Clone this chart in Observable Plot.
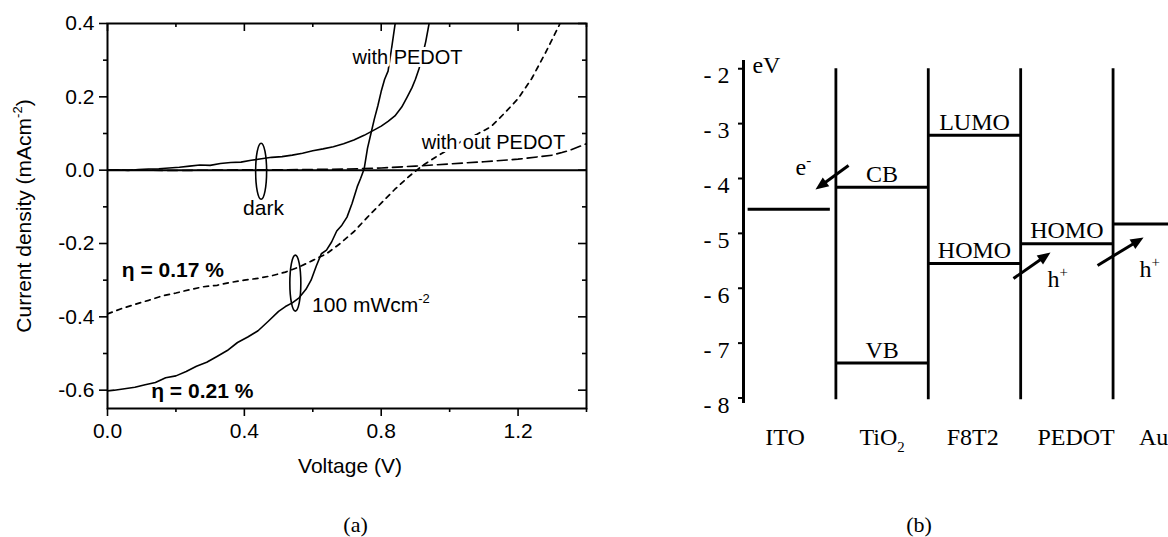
<!DOCTYPE html>
<html><head><meta charset="utf-8">
<script src="https://cdn.jsdelivr.net/npm/d3@7"></script>
<script src="https://cdn.jsdelivr.net/npm/@observablehq/plot@0.6"></script>
<style>
html,body{margin:0;padding:0;background:#fff;overflow:hidden;}
#wrap{position:relative;width:1168px;height:537px;background:#fff;}
#a{position:absolute;left:0;top:0;}
#b{position:absolute;left:620px;top:0;}
</style></head><body><div id="wrap"><div id="a"></div><div id="b"></div></div>
<script>
// ---------------- Panel (a) data: J–V curves ----------------
const V_darkPedot = [0, 0.03, 0.06, 0.09, 0.12, 0.15, 0.18, 0.21, 0.24, 0.27, 0.30, 0.33, 0.36, 0.39, 0.42, 0.45, 0.48, 0.51, 0.54, 0.57, 0.60, 0.63, 0.66, 0.69, 0.72, 0.75, 0.78, 0.80, 0.82, 0.84, 0.86, 0.875, 0.89, 0.90, 0.91, 0.92, 0.93, 0.94, 0.95];
const J_darkPedot = [0.000, 0.001, -0.001, 0.002, 0.003, 0.004, 0.006, 0.008, 0.011, 0.014, 0.013, 0.018, 0.021, 0.022, 0.027, 0.031, 0.035, 0.037, 0.041, 0.046, 0.053, 0.058, 0.064, 0.072, 0.082, 0.095, 0.110, 0.120, 0.133, 0.148, 0.172, 0.198, 0.225, 0.248, 0.275, 0.310, 0.350, 0.400, 0.450];

const V_lightPedot = [0, 0.02, 0.05, 0.08, 0.11, 0.14, 0.17, 0.20, 0.23, 0.26, 0.29, 0.32, 0.35, 0.38, 0.41, 0.44, 0.47, 0.50, 0.52, 0.54, 0.56, 0.58, 0.595, 0.61, 0.625, 0.64, 0.655, 0.67, 0.685, 0.70, 0.715, 0.73, 0.74, 0.75, 0.76, 0.77, 0.78, 0.79, 0.80, 0.81, 0.82, 0.83, 0.84, 0.85];
const J_lightPedot = [-0.602, -0.600, -0.596, -0.592, -0.585, -0.579, -0.566, -0.561, -0.549, -0.535, -0.524, -0.508, -0.492, -0.470, -0.455, -0.438, -0.412, -0.385, -0.372, -0.362, -0.348, -0.325, -0.300, -0.262, -0.228, -0.218, -0.196, -0.166, -0.150, -0.128, -0.090, -0.045, -0.022, 0.003, 0.060, 0.100, 0.140, 0.175, 0.215, 0.248, 0.270, 0.330, 0.395, 0.450];

const V_darkNoPedot = [0, 0.1, 0.2, 0.3, 0.4, 0.5, 0.6, 0.7, 0.8, 0.9, 1.0, 1.1, 1.2, 1.3, 1.35, 1.4];
const J_darkNoPedot = [0, 0, -0.001, 0, 0.001, 0.001, 0.002, 0.003, 0.006, 0.011, 0.017, 0.023, 0.030, 0.041, 0.054, 0.072];

const V_lightNoPedot = [0, 0.04, 0.08, 0.12, 0.16, 0.20, 0.24, 0.28, 0.32, 0.36, 0.40, 0.44, 0.48, 0.52, 0.56, 0.60, 0.64, 0.68, 0.72, 0.76, 0.80, 0.84, 0.88, 0.92, 0.96, 1.00, 1.04, 1.08, 1.12, 1.16, 1.20, 1.24, 1.28, 1.32, 1.34];
const J_lightNoPedot = [-0.392, -0.378, -0.366, -0.355, -0.343, -0.335, -0.326, -0.318, -0.314, -0.306, -0.300, -0.295, -0.288, -0.278, -0.264, -0.246, -0.228, -0.200, -0.168, -0.128, -0.090, -0.052, -0.018, 0.012, 0.036, 0.058, 0.082, 0.098, 0.118, 0.155, 0.195, 0.250, 0.320, 0.395, 0.440];

const xTicksMajor = [0, 0.4, 0.8, 1.2];
const xTicksMinor = [0.2, 0.6, 1.0, 1.4];
const yTicksMajor = [-0.6, -0.4, -0.2, 0, 0.2, 0.4];
const yTicksMinor = [-0.5, -0.3, -0.1, 0.1, 0.3];

const xLabelA = "Voltage (V)";
const yLabelA = "Current density (mAcm^{-2})";
const annText = ["with PEDOT", "with out PEDOT", "dark", "100 mWcm^{-2}", "η = 0.17 %", "η = 0.21 %"];
const annV = [0.877, 1.128, 0.456, 0.598, 0.191, 0.277];
const annJ = [0.306, 0.074, -0.103, -0.369, -0.272, -0.602];
const ringV = [0.449, 0.549];
const ringJ = [-0.003, -0.308];

// ---------------- Panel (b) data: energy levels ----------------
const layers = ["ITO", "TiO2", "F8T2", "PEDOT", "Au"];
const layerText = ["ITO", "TiO_{2}", "F8T2", "PEDOT", "Au"];
const layerTextX = [0.45, 1.5, 2.48, 3.6, 4.28];
const levelLayer = ["ITO", "TiO2", "TiO2", "F8T2", "F8T2", "PEDOT", "Au"];
const levelEnergy = [-4.56, -4.16, -7.36, -3.21, -5.55, -5.19, -4.83];
const levelText = ["", "CB", "VB", "LUMO", "HOMO", "HOMO", ""];
const eTicks = [-8, -7, -6, -5, -4, -3, -2];
const carrierText = ["e^{-}", "h^{+}", "h^{+}"];
const carrierX = [0.563, 3.29, 4.286];
const carrierE = [-3.79, -5.84, -5.66];
const arrowX1 = [1.137, 2.922, 3.832], arrowE1 = [-3.763, -5.822, -5.585];
const arrowX2 = [0.779, 3.323, 4.33], arrowE2 = [-4.20, -5.349, -5.075];

// ---------------- helpers ----------------
const sans = "'Liberation Sans', Arial, Helvetica, sans-serif";
const serif = "'Liberation Serif', 'Times New Roman', Times, serif";
const pts = (V, J) => V.map((v, i) => ({V: v, J: J[i]}));
const f1 = d => d.toFixed(1);

const ellipseSymbol = {
  draw(ctx) {
    const rx = 5.5, ry = 28, k = 0.5523, kx = k * rx, ky = k * ry;
    ctx.moveTo(rx, 0);
    ctx.bezierCurveTo(rx, ky, kx, ry, 0, ry);
    ctx.bezierCurveTo(-kx, ry, -rx, ky, -rx, 0);
    ctx.bezierCurveTo(-rx, -ky, -kx, -ry, 0, -ry);
    ctx.bezierCurveTo(kx, -ry, rx, -ky, rx, 0);
    ctx.closePath();
  }
};
const headSymbol = {
  draw(ctx) {
    ctx.moveTo(0, 0); ctx.lineTo(-5.5, 13); ctx.lineTo(5.5, 13); ctx.closePath();
  }
};

// ---------------- Panel (a) ----------------
const WA = 620, H = 537, mLA = 107, mRA = 34, mTA = 23, mBA = 129;
const fwA = WA - mLA - mRA, fhA = H - mTA - mBA;

const chartA = Plot.plot({
  width: WA, height: H,
  marginLeft: mLA, marginRight: mRA, marginTop: mTA, marginBottom: mBA,
  style: {fontFamily: sans, fontSize: "21px", background: "white", color: "black"},
  x: {domain: [0, 1.4]},
  y: {domain: [-0.65, 0.4]},
  marks: [
    Plot.ruleY([0], {strokeWidth: 2}),
    Plot.line(pts(V_darkNoPedot, J_darkNoPedot), {x: "V", y: "J", strokeWidth: 1.6, strokeDasharray: "10,5", clip: true}),
    Plot.line(pts(V_lightNoPedot, J_lightNoPedot), {x: "V", y: "J", strokeWidth: 1.7, strokeDasharray: "5,5", clip: true}),
    Plot.line(pts(V_darkPedot, J_darkPedot), {x: "V", y: "J", strokeWidth: 1.6, clip: true}),
    Plot.line(pts(V_lightPedot, J_lightPedot), {x: "V", y: "J", strokeWidth: 1.6, clip: true}),
    Plot.frame({strokeWidth: 2}),
    Plot.axisX({ticks: xTicksMajor, tickFormat: f1, tickSize: 8, tickPadding: 7, strokeWidth: 1.6, fontSize: 21, label: null}),
    Plot.axisX({ticks: xTicksMinor, tickFormat: () => "", tickSize: 4, strokeWidth: 1.6, label: null}),
    Plot.axisY({ticks: yTicksMajor, tickFormat: f1, tickSize: 8, tickPadding: 5, strokeWidth: 1.6, fontSize: 21, label: null}),
    Plot.axisY({ticks: yTicksMinor, tickFormat: () => "", tickSize: 4, strokeWidth: 1.6, label: null}),
    Plot.tickX(xTicksMajor, {x: d => d, insetBottom: fhA - 8, strokeWidth: 1.6}),
    Plot.tickX(xTicksMinor, {x: d => d, insetBottom: fhA - 4, strokeWidth: 1.6}),
    Plot.tickY(yTicksMajor, {y: d => d, insetLeft: fwA - 8, strokeWidth: 1.6}),
    Plot.tickY(yTicksMinor, {y: d => d, insetLeft: fwA - 4, strokeWidth: 1.6}),
    Plot.text([0, 1], {x: i => annV[i], y: i => annJ[i], text: i => annText[i], fontSize: 20, stroke: "white", strokeWidth: 6, paintOrder: "stroke", fill: "black"}),
    Plot.text([2], {x: i => annV[i], y: i => annJ[i], text: i => annText[i], fontSize: 21}),
    Plot.text([3], {x: i => annV[i], y: i => annJ[i], text: i => annText[i], fontSize: 21, textAnchor: "start"}),
    Plot.text([4, 5], {x: i => annV[i], y: i => annJ[i], text: i => annText[i], fontSize: 21, fontWeight: "bold"}),
    Plot.dot([0, 1], {x: i => ringV[i], y: i => ringJ[i], symbol: ellipseSymbol, r: 5, fill: "none", stroke: "black", strokeWidth: 1.6}),
    Plot.text([yLabelA], {frameAnchor: "left", textAnchor: "middle", lineAnchor: "middle", rotate: -90, dx: -83, fontSize: 21}),
    Plot.text([xLabelA], {frameAnchor: "bottom", textAnchor: "middle", lineAnchor: "middle", dx: 3, dy: 58, fontSize: 21}),
    Plot.text(["(a)"], {x: [0.725], frameAnchor: "bottom", lineAnchor: "middle", dy: 116, fontSize: 22, fontFamily: serif})
  ]
});
document.getElementById("a").appendChild(chartA);

// ---------------- Panel (b) ----------------
const WB = 548, mLB = 123, mRB = 0, mTB = 60, mBB = 134;
const xDomB = [0, 4.6], yDomB = [-8.1, -1.85];
const xB = d3.scaleLinear(xDomB, [mLB, WB - mRB]);
const yB = d3.scaleLinear(yDomB, [H - mBB, mTB]);

const levels = levelLayer.map((l, i) => {
  const k = layers.indexOf(l);
  return {k, E: levelEnergy[i], label: levelText[i], x1: k === 0 ? k + 0.05 : k, x2: k === 0 ? k + 0.94 : k + 1};
});
const arrows = arrowX1.map((_, i) => {
  const p1 = [xB(arrowX1[i]), yB(arrowE1[i])], p2 = [xB(arrowX2[i]), yB(arrowE2[i])];
  const dx = p2[0] - p1[0], dy = p2[1] - p1[1], len = Math.hypot(dx, dy);
  const ux = dx / len, uy = dy / len;
  return {
    x1: arrowX1[i], y1: arrowE1[i], x2: arrowX2[i], y2: arrowE2[i],
    sx: xB.invert(p2[0] - 9 * ux), sy: yB.invert(p2[1] - 9 * uy),
    angle: Math.atan2(dy, dx) * 180 / Math.PI + 90
  };
});
const lastLayer = layers.length - 1;

const chartB = Plot.plot({
  width: WB, height: H,
  marginLeft: mLB, marginRight: mRB, marginTop: mTB, marginBottom: mBB,
  style: {fontFamily: serif, fontSize: "24px", background: "white", color: "black"},
  x: {domain: xDomB, axis: null},
  y: {domain: yDomB},
  marks: [
    Plot.ruleX([0], {strokeWidth: 3}),
    Plot.axisY({ticks: eTicks, tickFormat: () => "", tickSize: 5, strokeWidth: 2, label: null}),
    Plot.text(eTicks, {x: 0, y: d => d, text: d => "- " + Math.abs(d), textAnchor: "end", dx: -14, dy: 7, fontSize: 24}),
    Plot.ruleX(d3.range(1, layers.length), {x: d => d, y1: -2.0, y2: -8.03, strokeWidth: 2.8}),
    Plot.ruleY(levels, {y: "E", x1: "x1", x2: "x2", strokeWidth: 3, clip: true}),
    Plot.text(levels.filter(d => d.label), {x: d => d.k + 0.5, y: "E", text: "label", dy: -13, fontSize: 24}),
    Plot.text(d3.range(lastLayer), {x: i => layerTextX[i], frameAnchor: "bottom", lineAnchor: "middle", dy: 34, text: i => layerText[i], fontSize: 24}),
    Plot.text([lastLayer], {x: i => layerTextX[i], frameAnchor: "bottom", textAnchor: "start", lineAnchor: "middle", dy: 34, text: i => layerText[i], fontSize: 24}),
    Plot.text(["eV"], {x: [0.097], y: [-1.94], textAnchor: "start", fontSize: 24}),
    Plot.link(arrows, {x1: "x1", y1: "y1", x2: "sx", y2: "sy", strokeWidth: 3}),
    Plot.dot(arrows, {x: "x2", y: "y2", symbol: headSymbol, r: 5, fill: "black", stroke: "none", rotate: "angle"}),
    Plot.text(carrierText.map((_, i) => i), {x: i => carrierX[i], y: i => carrierE[i], text: i => carrierText[i], textAnchor: "start", fontSize: 24}),
    Plot.text(["(b)"], {x: [1.9], frameAnchor: "bottom", lineAnchor: "middle", dy: 121, fontSize: 22})
  ]
});
document.getElementById("b").appendChild(chartB);

// ---------------- superscripts / subscripts as real tspans ----------------
function richText(root) {
  const NS = "http://www.w3.org/2000/svg";
  root.querySelectorAll("text").forEach(t => {
    if (t.querySelector("tspan")) return;
    const s = t.textContent;
    if (!/[\^_]\{/.test(s)) return;
    const fs = parseFloat(getComputedStyle(t).fontSize) || 20;
    t.textContent = "";
    let shift = 0, last = 0, m;
    const re = /([\^_])\{([^}]*)\}/g;
    const add = (txt, off, size) => {
      const ts = document.createElementNS(NS, "tspan");
      const d = off - shift; shift = off;
      if (d) ts.setAttribute("dy", d);
      ts.setAttribute("font-size", size);
      ts.textContent = txt;
      t.appendChild(ts);
    };
    while ((m = re.exec(s))) {
      if (m.index > last) add(s.slice(last, m.index), 0, fs);
      add(m[2], m[1] === "^" ? -0.42 * fs : 0.28 * fs, 0.62 * fs);
      last = re.lastIndex;
    }
    if (last < s.length) add(s.slice(last), 0, fs);
  });
}
richText(document.getElementById("wrap"));
</script></body></html>
